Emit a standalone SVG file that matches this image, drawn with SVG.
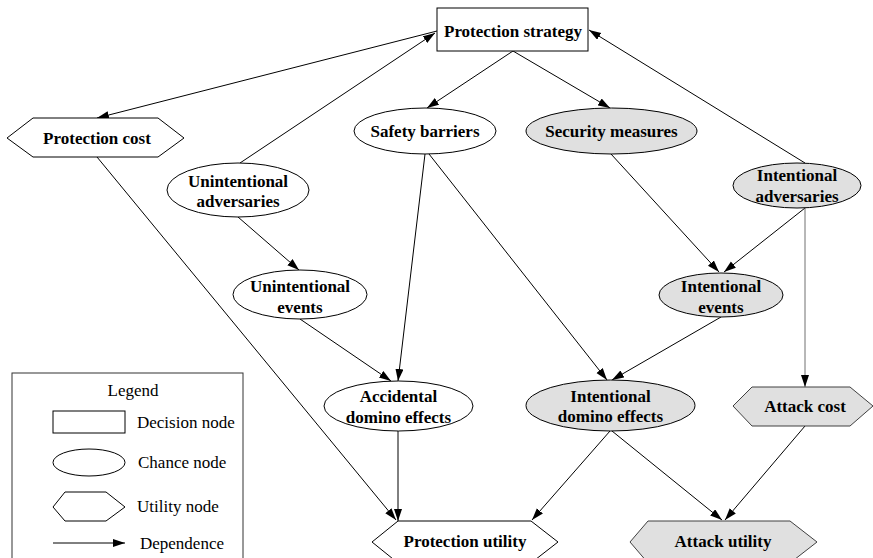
<svg xmlns="http://www.w3.org/2000/svg" width="873" height="558" viewBox="0 0 873 558">
<defs>
<marker id="arr" markerUnits="userSpaceOnUse" markerWidth="13" markerHeight="9" refX="12" refY="4" orient="auto">
<path d="M0,0 L12,4 L0,8 z" fill="#000"/>
</marker>
<style>
.n{fill:#fff;stroke:#000;stroke-width:1}
.g{fill:#e0e0e0;stroke:#000;stroke-width:1}
.gd{fill:#e0e0e0;stroke:#404040;stroke-width:1}
.t{font-family:"Liberation Serif",serif;font-weight:bold;font-size:17px;text-anchor:middle;fill:#000}
.l{font-family:"Liberation Serif",serif;font-size:17px;fill:#000}
.e{stroke:#000;stroke-width:1;fill:none;marker-end:url(#arr)}
</style>
</defs>
<rect width="873" height="558" fill="#fff"/>
<g id="connectors">
<line class="e" x1="437" y1="31" x2="97" y2="118"/>
<line class="e" x1="240" y1="163" x2="435" y2="33"/>
<line class="e" x1="805" y1="163" x2="589" y2="30"/>
<line class="e" x1="513" y1="51" x2="427" y2="108"/>
<line class="e" x1="513" y1="51" x2="610" y2="108"/>
<line class="e" x1="97" y1="157" x2="396" y2="520"/>
<line class="e" x1="238" y1="217" x2="299" y2="270"/>
<line class="e" x1="300" y1="319" x2="391" y2="381"/>
<line class="e" x1="425" y1="154" x2="398" y2="381"/>
<line class="e" x1="429" y1="154" x2="607" y2="380"/>
<line class="e" x1="611" y1="154" x2="719" y2="272"/>
<line class="e" x1="805" y1="208" x2="724" y2="272"/>
<line class="e" x1="721" y1="317" x2="612" y2="380"/>
<line class="e" x1="805" y1="208" x2="805" y2="387" style="stroke:#707070"/>
<line class="e" x1="398" y1="431" x2="398" y2="521"/>
<line class="e" x1="610" y1="431" x2="532" y2="520"/>
<line class="e" x1="612" y1="431" x2="722" y2="520"/>
<line class="e" x1="805" y1="426" x2="725" y2="520"/>
</g>
<g id="protection-strategy">
<rect class="n" x="437" y="8" width="151" height="43"/>
<text class="t" x="513" y="37">Protection strategy</text>
</g>
<g id="protection-cost">
<polygon class="n" points="7,138 33,118 158,118 184,138 158,157 33,157"/>
<text class="t" x="97" y="144">Protection cost</text>
</g>
<g id="safety-barriers">
<ellipse class="n" cx="425" cy="131" rx="71" ry="23"/>
<text class="t" x="425" y="137">Safety barriers</text>
</g>
<g id="security-measures">
<ellipse class="g" cx="611.5" cy="131" rx="85.5" ry="23"/>
<text class="t" x="611.5" y="137">Security measures</text>
</g>
<g id="unintentional-adversaries">
<ellipse class="n" cx="238" cy="190" rx="71" ry="27"/>
<text class="t" x="238" y="187">Unintentional</text>
<text class="t" x="238" y="207">adversaries</text>
</g>
<g id="intentional-adversaries">
<ellipse class="g" cx="797" cy="185.5" rx="64" ry="22.5"/>
<text class="t" x="797" y="181">Intentional</text>
<text class="t" x="797" y="202">adversaries</text>
</g>
<g id="unintentional-events">
<ellipse class="n" cx="300" cy="294.5" rx="67" ry="24.5"/>
<text class="t" x="300" y="292">Unintentional</text>
<text class="t" x="300" y="313">events</text>
</g>
<g id="intentional-events">
<ellipse class="g" cx="721" cy="295" rx="62" ry="22"/>
<text class="t" x="721" y="292">Intentional</text>
<text class="t" x="721" y="313">events</text>
</g>
<g id="accidental-domino-effects">
<ellipse class="n" cx="398.5" cy="406" rx="74.5" ry="25"/>
<text class="t" x="398.5" y="402">Accidental</text>
<text class="t" x="398.5" y="423">domino effects</text>
</g>
<g id="intentional-domino-effects">
<ellipse class="g" cx="610.5" cy="405.5" rx="84.5" ry="25.5"/>
<text class="t" x="610.5" y="402">Intentional</text>
<text class="t" x="610.5" y="422">domino effects</text>
</g>
<g id="attack-cost">
<polygon class="gd" points="733,406 752,387 850,387 873,406 850,426 752,426"/>
<text class="t" x="805" y="412">Attack cost</text>
</g>
<g id="protection-utility">
<polygon class="n" points="372,542 398,521 531,521 558,542 531,563 398,563"/>
<text class="t" x="465" y="547">Protection utility</text>
</g>
<g id="attack-utility">
<polygon class="gd" points="630,542 648,521 790,521 817,542 790,563 648,563"/>
<text class="t" x="723" y="547">Attack utility</text>
</g>
<g id="legend">
<rect x="12" y="373" width="231" height="200" fill="#fff" stroke="#333" stroke-width="1"/>
<text class="l" x="133" y="396" text-anchor="middle">Legend</text>
<rect class="n" x="53" y="411" width="72" height="22"/>
<text class="l" x="137" y="428">Decision node</text>
<ellipse class="n" cx="89" cy="462.5" rx="36" ry="13.5"/>
<text class="l" x="138" y="468">Chance node</text>
<polygon class="n" points="53,507 65,492 106,492 125,507 106,521 65,521"/>
<text class="l" x="137" y="512">Utility node</text>
<line class="e" x1="53" y1="543" x2="125" y2="543"/>
<text class="l" x="140" y="549">Dependence</text>
</g>
</svg>
